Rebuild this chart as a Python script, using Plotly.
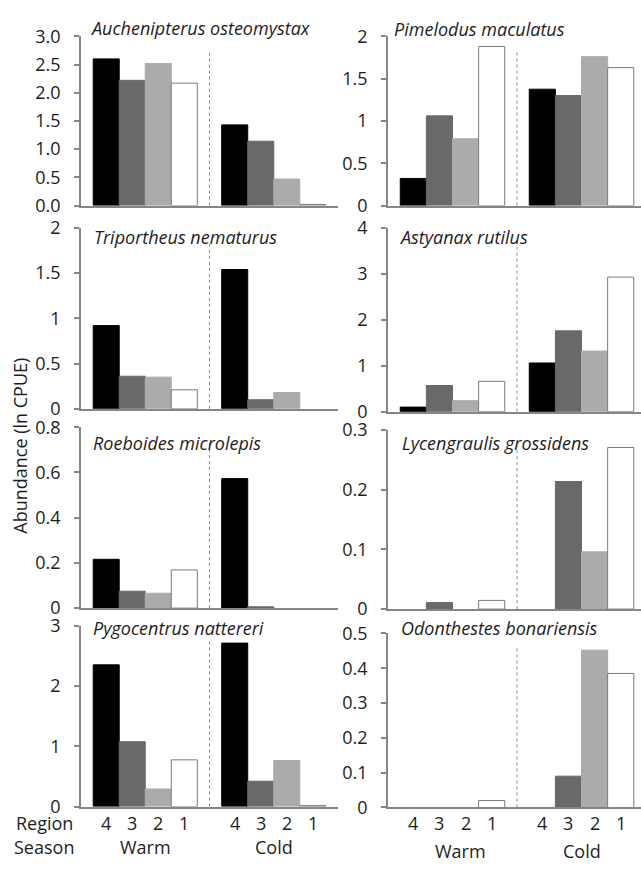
import plotly.graph_objects as go

# ---------------- data (order = region 4, 3, 2, 1) -------------
seasons = ["Warm", "Cold"]
regions = ["4", "3", "2", "1"]

species = [
    "Auchenipterus osteomystax", "Pimelodus maculatus",
    "Triportheus nematurus", "Astyanax rutilus",
    "Roeboides microlepis", "Lycengraulis grossidens",
    "Pygocentrus nattereri", "Odonthestes bonariensis",
]

auchenipterus_warm = [2.60, 2.22, 2.52, 2.17]
auchenipterus_cold = [1.43, 1.14, 0.47, 0.02]
pimelodus_warm = [0.32, 1.06, 0.79, 1.88]
pimelodus_cold = [1.375, 1.30, 1.76, 1.63]
triportheus_warm = [0.92, 0.36, 0.35, 0.21]
triportheus_cold = [1.54, 0.10, 0.18, 0.0]
astyanax_warm = [0.10, 0.57, 0.24, 0.66]
astyanax_cold = [1.06, 1.76, 1.32, 2.93]
roeboides_warm = [0.216, 0.075, 0.066, 0.169]
roeboides_cold = [0.573, 0.006, 0.0, 0.0]
lycengraulis_warm = [0.0, 0.011, 0.0, 0.0146]
lycengraulis_cold = [0.0, 0.214, 0.096, 0.271]
pygocentrus_warm = [2.35, 1.075, 0.29, 0.774]
pygocentrus_cold = [2.71, 0.42, 0.763, 0.015]
odonthestes_warm = [0.0, 0.0, 0.0, 0.02]
odonthestes_cold = [0.0, 0.09, 0.452, 0.385]

warm_values = [auchenipterus_warm, pimelodus_warm, triportheus_warm, astyanax_warm,
               roeboides_warm, lycengraulis_warm, pygocentrus_warm, odonthestes_warm]
cold_values = [auchenipterus_cold, pimelodus_cold, triportheus_cold, astyanax_cold,
               roeboides_cold, lycengraulis_cold, pygocentrus_cold, odonthestes_cold]

y_max = [3.0, 2, 2, 4, 0.8, 0.3, 3, 0.5]
y_step = [0.5, 0.5, 0.5, 1, 0.2, 0.1, 1, 0.1]
y_fmt = [".1f", "", "", "", "", "", "", ""]

# ---------------- style / layout ----------------
W, H = 641, 871
FONT = "Open Sans"
TXT = "#1e1e1e"
AXC = "#868686"
fills = ["#000000", "#696969", "#ababab", "#ffffff"]
edges = ["#000000", "#696969", "#ababab", "#7a7a7a"]
BARGAP = 0.19

col_x = [(81, 338), (388, 641)]
x_range = [[-0.5, 1.5], [-0.5, 1.461]]
rows_px = [
    [(24, 198), (221, 407), (426, 612), (630, 816)],   # left column
    [(24, 198), (221, 410), (429, 613), (638, 817)],   # right column
]
title_px = [(88, 15), (392, 16), (92, 230), (397, 230),
            (91, 442), (400, 442), (91, 632), (399, 632)]


def px_x(v):
    return v / W


def px_y(v):
    return 1 - v / H


fig = go.Figure()
layout = dict(
    width=W, height=H, autosize=False,
    margin=dict(l=0, r=0, t=0, b=0),
    paper_bgcolor="white", plot_bgcolor="white",
    barmode="group", bargap=BARGAP, bargroupgap=0,
    showlegend=False,
    font=dict(family=FONT, size=18, color=TXT),
)
annotations = []
shapes = []

for p in range(8):
    n = p + 1
    col = p % 2
    row = p // 2
    xa = "x" if n == 1 else f"x{n}"
    ya = "y" if n == 1 else f"y{n}"
    for i, reg in enumerate(regions):
        vals = [warm_values[p][i], cold_values[p][i]]
        fig.add_trace(go.Bar(
            x=seasons,
            y=vals,
            name="Region " + reg,
            xaxis=xa, yaxis=ya,
            marker=dict(color=fills[i],
                        line=dict(color=edges[i],
                                  width=[0 if v == 0 else 1 for v in vals])),
            hoverinfo="x+y+name",
        ))
    top, bot = rows_px[col][row]
    x0, x1 = col_x[col]
    layout[f"xaxis{n}" if n > 1 else "xaxis"] = dict(
        domain=[px_x(x0), px_x(x1)], anchor=ya,
        type="category", range=x_range[col],
        showline=True, linecolor=AXC, linewidth=1.5,
        showticklabels=False, ticks="", showgrid=False, zeroline=False,
    )
    layout[f"yaxis{n}" if n > 1 else "yaxis"] = dict(
        domain=[px_y(bot), px_y(top)], anchor=xa,
        range=[0, y_max[p]], dtick=y_step[p], tick0=0,
        tickformat=y_fmt[p],
        showline=True, linecolor=AXC, linewidth=1.5,
        ticks="outside", ticklen=5, tickcolor=AXC, tickwidth=1.5,
        ticklabelstandoff=10,
        showgrid=False, zeroline=False,
        tickfont=dict(family=FONT, size=18, color=TXT),
    )
    # dotted season separator
    shapes.append(dict(
        type="line", xref=xa, x0=0.5, x1=0.5,
        yref=f"{ya} domain", y0=0, y1=0.92,
        line=dict(color="#8c8c8c", width=1, dash="dot"),
    ))
    tx, ty = title_px[p]
    annotations.append(dict(
        text=f"<i>{species[p]}</i>", xref="paper", yref="paper",
        x=px_x(tx), y=px_y(ty), xanchor="left", yanchor="middle",
        showarrow=False, font=dict(family=FONT, size=18, color=TXT),
    ))

# region / season labels beneath bottom panels
bar_w = (1 - BARGAP) / len(regions)
offsets = [-0.5 + BARGAP / 2 + (i + 0.5) * bar_w for i in range(len(regions))]
for n, season_y, wshift in [(7, 858, 0), (8, 862, 8)]:
    xa = f"x{n}"
    for s_idx, season in enumerate(seasons):
        for i, reg in enumerate(regions):
            annotations.append(dict(
                text=reg, xref=xa, yref="paper",
                x=s_idx + offsets[i], y=px_y(833),
                xanchor="center", yanchor="middle", showarrow=False,
                font=dict(family=FONT, size=18, color=TXT),
            ))
        annotations.append(dict(
            text=season, xref=xa, yref="paper",
            x=s_idx, y=px_y(season_y), xshift=wshift if s_idx == 0 else 0,
            xanchor="center", yanchor="middle", showarrow=False,
            font=dict(family=FONT, size=18, color=TXT),
        ))

for label, yy in [("Region", 833), ("Season", 858)]:
    annotations.append(dict(
        text=label, xref="paper", yref="paper", x=px_x(44), y=px_y(yy),
        xanchor="center", yanchor="middle", showarrow=False,
        font=dict(family=FONT, size=18, color=TXT),
    ))

annotations.append(dict(
    text="Abundance (ln CPUE)", xref="paper", yref="paper",
    x=px_x(20), y=px_y(445), textangle=-90,
    xanchor="center", yanchor="middle", showarrow=False,
    font=dict(family=FONT, size=18, color=TXT),
))

layout["annotations"] = annotations
layout["shapes"] = shapes
fig.update_layout(**layout)
fig.write_html(
    "out.html",
    post_script="document.documentElement.style.margin='0';"
                "document.body.style.margin='0';"
                "document.body.style.overflow='hidden';",
)
